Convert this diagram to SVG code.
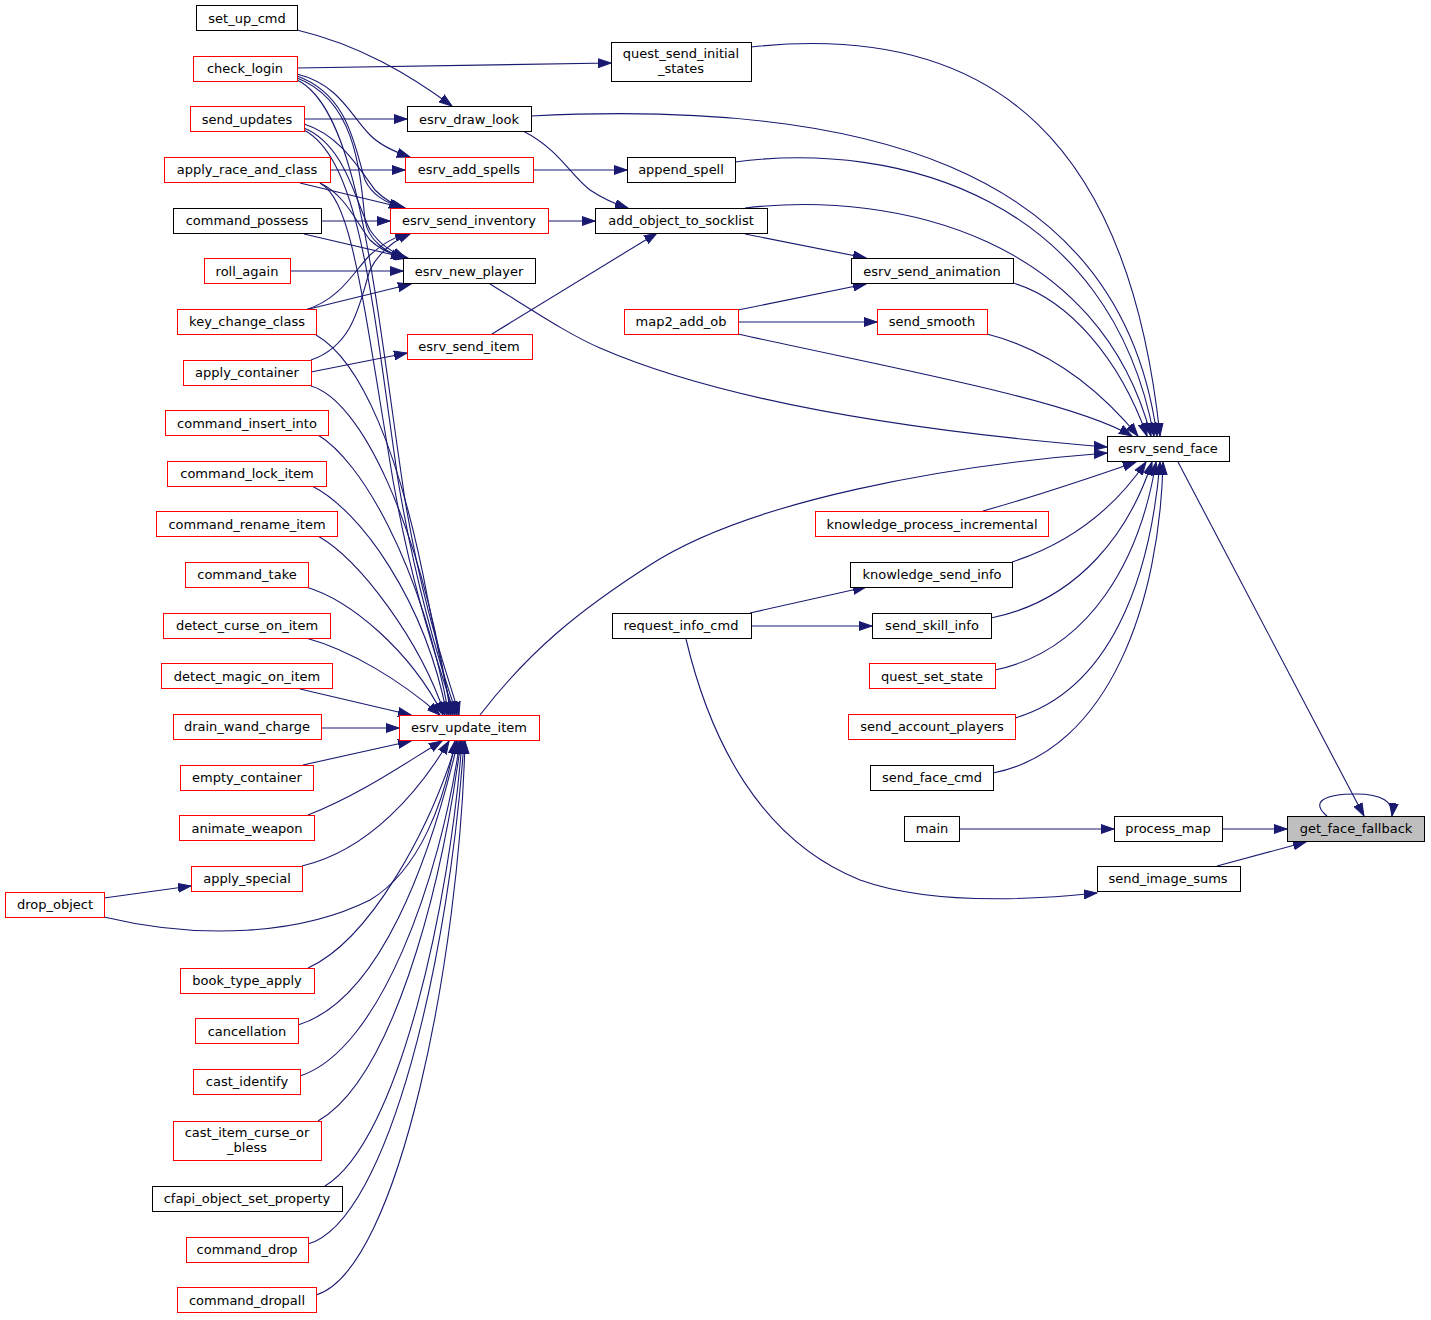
<svg xmlns="http://www.w3.org/2000/svg" width="1431" height="1320" viewBox="0 0 1431 1320">
<style>
.n rect{fill:#fff;stroke:#000;stroke-width:1}
.r rect{stroke:#ff0000}
.g rect{fill:#bfbfbf}
text{font-family:"DejaVu Sans","Liberation Sans",sans-serif;font-size:13px;fill:#000;text-anchor:middle}
#edges path{fill:none;stroke:#191970;stroke-width:1.1;marker-end:url(#ah)}
</style>
<defs>
<marker id="ah" markerUnits="userSpaceOnUse" markerWidth="14" markerHeight="10" refX="13" refY="4.5" orient="auto" viewBox="0 0 14 9">
<path d="M0,0 L13,4.5 L0,9 z" fill="#191970" stroke="#191970" stroke-width="1"/>
</marker>
</defs>
<rect width="1431" height="1320" fill="#fff"/>
<g id="edges">
<path d="M1178,462 L1364,816"/>
<path d="M1222,829 L1287,829"/>
<path d="M1217,866 L1306,842"/>
<path d="M1327,816 C1310,802 1324,794 1356,794 C1382,794 1394,802 1392,816"/>
<path d="M959,829 L1114,829"/>
<path d="M686,639 C710,740 760,840 860,880 C930,905 1030,900 1097,893"/>
<path d="M751,47 C1000,20 1130,150 1160,436"/>
<path d="M531,116 C850,100 1120,160 1157,436"/>
<path d="M735,162 C900,140 1110,200 1154,436"/>
<path d="M745,208 C900,190 1100,240 1151,436"/>
<path d="M1013,283 C1070,300 1120,360 1147,436"/>
<path d="M987,334 C1050,350 1100,390 1138,436"/>
<path d="M738,334 C900,370 1070,400 1132,436"/>
<path d="M490,284 C540,315 570,335 600,348 C720,400 900,430 1107,447"/>
<path d="M480,715 C530,650 580,610 650,565 C750,500 950,465 1107,453"/>
<path d="M983,511 C1040,495 1090,478 1136,462"/>
<path d="M1012,562 C1080,540 1120,500 1146,462"/>
<path d="M991,618 C1080,600 1130,530 1152,462"/>
<path d="M995,670 C1090,650 1140,560 1156,462"/>
<path d="M1015,718 C1110,690 1150,580 1160,462"/>
<path d="M993,773 C1110,750 1160,600 1163,462"/>
<path d="M745,234 L866,258"/>
<path d="M738,310 L866,284"/>
<path d="M738,322 L877,322"/>
<path d="M750,613 L866,587"/>
<path d="M751,626 L872,626"/>
<path d="M523,131 C560,150 570,175 590,190 C605,200 615,204 628,208"/>
<path d="M548,221 L595,221"/>
<path d="M492,334 L657,233"/>
<path d="M533,170 L627,170"/>
<path d="M297,68 L611,63"/>
<path d="M297,30 C360,45 410,75 452,106"/>
<path d="M304,119 L407,119"/>
<path d="M297,74 C340,85 350,115 370,135 C380,145 395,152 410,157"/>
<path d="M330,170 L405,170"/>
<path d="M297,76 C350,95 355,150 365,180 C372,195 385,202 402,208"/>
<path d="M304,124 C340,135 360,170 375,190 C385,200 393,205 405,208"/>
<path d="M300,183 L404,208"/>
<path d="M321,221 L390,221"/>
<path d="M305,310 C340,300 355,270 370,255 C385,242 395,237 408,233"/>
<path d="M311,360 C355,345 360,300 370,270 C380,250 395,240 411,233"/>
<path d="M297,78 C355,100 360,170 365,220 C368,240 385,252 404,258"/>
<path d="M304,128 C345,145 355,200 370,230 C380,245 392,252 406,258"/>
<path d="M320,183 C345,195 355,220 370,240 C380,250 393,255 408,258"/>
<path d="M304,234 L407,258"/>
<path d="M290,271 L403,271"/>
<path d="M305,310 L411,284"/>
<path d="M311,372 L407,353"/>
<path d="M297,80 C360,110 375,300 405,500 C425,620 450,680 459,715"/>
<path d="M304,130 C360,160 372,300 398,480 C418,600 445,680 457,715"/>
<path d="M320,183 C350,200 360,280 388,450 C408,580 440,670 455,715"/>
<path d="M316,335 C360,360 400,450 428,600 C438,650 446,690 453,715"/>
<path d="M311,386 C360,400 420,520 451,715"/>
<path d="M318,435 C360,460 420,560 449,715"/>
<path d="M312,486 C360,510 425,600 447,715"/>
<path d="M318,536 C360,560 420,640 445,715"/>
<path d="M306,587 C350,600 410,650 443,715"/>
<path d="M306,638 C350,650 400,680 440,715"/>
<path d="M300,689 L411,715"/>
<path d="M321,728 L399,728"/>
<path d="M303,765 L411,741"/>
<path d="M308,815 C360,795 410,760 442,741"/>
<path d="M302,866 C370,850 420,790 449,741"/>
<path d="M104,917 C200,940 300,935 370,900 C420,870 445,800 455,741"/>
<path d="M308,968 C370,940 430,830 457,741"/>
<path d="M298,1025 C380,1000 430,860 458,741"/>
<path d="M300,1076 C380,1050 440,880 460,741"/>
<path d="M318,1121 C390,1080 440,900 461,741"/>
<path d="M325,1186 C400,1140 450,900 462,741"/>
<path d="M308,1244 C390,1220 450,950 464,741"/>
<path d="M316,1295 C400,1270 460,950 465,741"/>
<path d="M104,898 L191,886"/>
</g>
<g id="set_up_cmd" class="n"><rect x="196.5" y="5.5" width="101" height="25"/><text x="247" y="22.5">set_up_cmd</text></g>
<g id="check_login" class="n r"><rect x="193.5" y="56.5" width="104" height="25"/><text x="245" y="73">check_login</text></g>
<g id="send_updates" class="n r"><rect x="190.5" y="106.5" width="114" height="25"/><text x="247" y="123.5">send_updates</text></g>
<g id="apply_race_and_class" class="n r"><rect x="164.5" y="157.5" width="166" height="25"/><text x="247" y="174">apply_race_and_class</text></g>
<g id="command_possess" class="n"><rect x="173.5" y="208.5" width="148" height="25"/><text x="247" y="225">command_possess</text></g>
<g id="roll_again" class="n r"><rect x="204.5" y="258.5" width="86" height="25"/><text x="247" y="275.5">roll_again</text></g>
<g id="key_change_class" class="n r"><rect x="177.5" y="309.5" width="139" height="25"/><text x="247" y="326">key_change_class</text></g>
<g id="apply_container" class="n r"><rect x="183.5" y="360.5" width="128" height="25"/><text x="247" y="377">apply_container</text></g>
<g id="command_insert_into" class="n r"><rect x="165.5" y="410.5" width="163" height="25"/><text x="247" y="427.5">command_insert_into</text></g>
<g id="command_lock_item" class="n r"><rect x="167.5" y="461.5" width="159" height="25"/><text x="247" y="478">command_lock_item</text></g>
<g id="command_rename_item" class="n r"><rect x="156.5" y="511.5" width="181" height="25"/><text x="247" y="528.5">command_rename_item</text></g>
<g id="command_take" class="n r"><rect x="185.5" y="562.5" width="123" height="25"/><text x="247" y="579">command_take</text></g>
<g id="detect_curse_on_item" class="n r"><rect x="163.5" y="613.5" width="167" height="25"/><text x="247" y="630">detect_curse_on_item</text></g>
<g id="detect_magic_on_item" class="n r"><rect x="161.5" y="663.5" width="171" height="25"/><text x="247" y="680.5">detect_magic_on_item</text></g>
<g id="drain_wand_charge" class="n r"><rect x="173.5" y="714.5" width="148" height="25"/><text x="247" y="731">drain_wand_charge</text></g>
<g id="empty_container" class="n r"><rect x="180.5" y="765.5" width="133" height="25"/><text x="247" y="782">empty_container</text></g>
<g id="animate_weapon" class="n r"><rect x="179.5" y="815.5" width="135" height="25"/><text x="247" y="832.5">animate_weapon</text></g>
<g id="apply_special" class="n r"><rect x="191.5" y="866.5" width="111" height="25"/><text x="247" y="883">apply_special</text></g>
<g id="drop_object" class="n r"><rect x="5.5" y="892.5" width="99" height="25"/><text x="55" y="909">drop_object</text></g>
<g id="book_type_apply" class="n r"><rect x="180.5" y="968.5" width="134" height="25"/><text x="247" y="985">book_type_apply</text></g>
<g id="cancellation" class="n r"><rect x="195.5" y="1018.5" width="103" height="25"/><text x="247" y="1035.5">cancellation</text></g>
<g id="cast_identify" class="n r"><rect x="193.5" y="1069.5" width="107" height="25"/><text x="247" y="1086">cast_identify</text></g>
<g id="cast_item_curse_or_bless" class="n r"><rect x="173.5" y="1121.5" width="148" height="39"/><text x="247" y="1137">cast_item_curse_or</text><text x="247" y="1152">_bless</text></g>
<g id="cfapi_object_set_property" class="n"><rect x="152.5" y="1186.5" width="190" height="25"/><text x="247" y="1203">cfapi_object_set_property</text></g>
<g id="command_drop" class="n r"><rect x="186.5" y="1237.5" width="122" height="25"/><text x="247" y="1254">command_drop</text></g>
<g id="command_dropall" class="n r"><rect x="177.5" y="1287.5" width="139" height="25"/><text x="247" y="1304.5">command_dropall</text></g>
<g id="esrv_draw_look" class="n"><rect x="407.5" y="106.5" width="124" height="25"/><text x="469" y="123.5">esrv_draw_look</text></g>
<g id="esrv_add_spells" class="n r"><rect x="405.5" y="157.5" width="128" height="25"/><text x="469" y="174">esrv_add_spells</text></g>
<g id="esrv_send_inventory" class="n r"><rect x="390.5" y="208.5" width="158" height="25"/><text x="469" y="225">esrv_send_inventory</text></g>
<g id="esrv_new_player" class="n"><rect x="403.5" y="258.5" width="132" height="25"/><text x="469" y="275.5">esrv_new_player</text></g>
<g id="esrv_send_item" class="n r"><rect x="407.5" y="334.5" width="125" height="25"/><text x="469" y="351">esrv_send_item</text></g>
<g id="esrv_update_item" class="n r"><rect x="399.5" y="715.5" width="140" height="25"/><text x="469" y="732">esrv_update_item</text></g>
<g id="quest_send_initial_states" class="n"><rect x="611.5" y="42.5" width="140" height="39"/><text x="681" y="58">quest_send_initial</text><text x="681" y="73">_states</text></g>
<g id="append_spell" class="n"><rect x="627.5" y="157.5" width="108" height="25"/><text x="681" y="174">append_spell</text></g>
<g id="add_object_to_socklist" class="n"><rect x="595.5" y="208.5" width="172" height="25"/><text x="681" y="225">add_object_to_socklist</text></g>
<g id="map2_add_ob" class="n r"><rect x="624.5" y="309.5" width="114" height="25"/><text x="681" y="326">map2_add_ob</text></g>
<g id="request_info_cmd" class="n"><rect x="612.5" y="613.5" width="139" height="25"/><text x="681" y="630">request_info_cmd</text></g>
<g id="esrv_send_animation" class="n"><rect x="851.5" y="258.5" width="162" height="25"/><text x="932" y="275.5">esrv_send_animation</text></g>
<g id="send_smooth" class="n r"><rect x="877.5" y="309.5" width="110" height="25"/><text x="932" y="326">send_smooth</text></g>
<g id="knowledge_process_incremental" class="n r"><rect x="815.5" y="511.5" width="233" height="25"/><text x="932" y="528.5">knowledge_process_incremental</text></g>
<g id="knowledge_send_info" class="n"><rect x="850.5" y="562.5" width="162" height="25"/><text x="932" y="579">knowledge_send_info</text></g>
<g id="send_skill_info" class="n"><rect x="872.5" y="613.5" width="119" height="25"/><text x="932" y="630">send_skill_info</text></g>
<g id="quest_set_state" class="n r"><rect x="869.5" y="663.5" width="126" height="25"/><text x="932" y="680.5">quest_set_state</text></g>
<g id="send_account_players" class="n r"><rect x="848.5" y="714.5" width="167" height="25"/><text x="932" y="731">send_account_players</text></g>
<g id="send_face_cmd" class="n"><rect x="870.5" y="765.5" width="123" height="25"/><text x="932" y="782">send_face_cmd</text></g>
<g id="main" class="n"><rect x="904.5" y="816.5" width="55" height="25"/><text x="932" y="833">main</text></g>
<g id="esrv_send_face" class="n"><rect x="1107.5" y="436.5" width="122" height="25"/><text x="1168" y="453">esrv_send_face</text></g>
<g id="process_map" class="n"><rect x="1114.5" y="816.5" width="108" height="25"/><text x="1168" y="833">process_map</text></g>
<g id="send_image_sums" class="n"><rect x="1097.5" y="866.5" width="143" height="25"/><text x="1168" y="883">send_image_sums</text></g>
<g id="get_face_fallback" class="n g"><rect x="1287.5" y="816.5" width="137" height="25"/><text x="1356" y="833">get_face_fallback</text></g>
</svg>
